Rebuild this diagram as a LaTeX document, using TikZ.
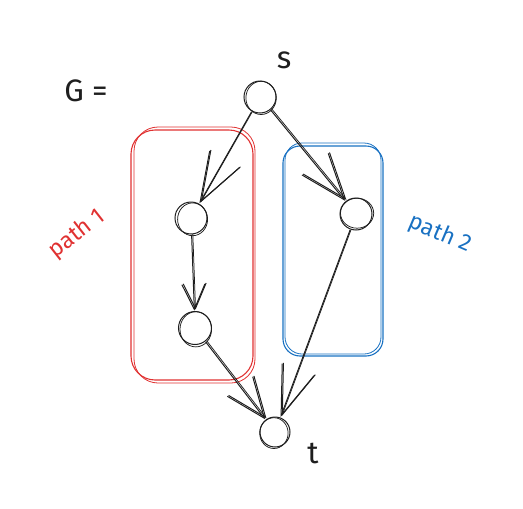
\documentclass[tikz,border=0pt]{standalone}
\usepackage{fontspec}
\setmainfont{Fira Sans}
\usetikzlibrary{arrows.meta}
\definecolor{ink}{HTML}{1E1E1E}
\definecolor{redpen}{HTML}{E03131}
\definecolor{bluepen}{HTML}{1971C2}
\begin{document}
\begin{tikzpicture}[x=1pt,y=-1pt,
  vtx/.style={circle,draw=ink,line width=1pt,minimum size=32pt,inner sep=0pt,outer sep=1pt},
  sk/.style={draw=ink,line width=0.75pt},
  edge/.style={draw=ink,line width=1pt},
  barb/.style 2 args={-{Straight Barb[length=#1,width=#2,line width=1pt]}},
  second/.style={transform canvas={shift={(1.2pt,0.9pt)}},line width=0.75pt},
  lbl/.style={font=\fontsize{31}{34}\selectfont\mdseries,text=ink},
  pathlbl/.style={font=\fontsize{23}{26}\selectfont,inner sep=0pt},
  redbox/.style={draw=redpen,rounded corners=24pt},
  bluebox/.style={draw=bluepen,rounded corners=17pt}]
\useasboundingbox (0,0) rectangle (523,509);

% path groups
\draw[redbox,line width=1.1pt] (131,130) rectangle (253,380);
\draw[redbox,line width=0.8pt] (134,127) rectangle (255,383);
\draw[bluebox,line width=1.1pt] (283,146) rectangle (383,356);
\draw[bluebox,line width=0.8pt] (285,143) rectangle (381,354);

% vertices
\node[vtx] (s) at (260,97) {};
\node[vtx] (a) at (191,218) {};
\node[vtx] (b) at (356,214) {};
\node[vtx,minimum size=33pt] (c) at (195,328) {};
\node[vtx,minimum size=30pt] (t) at (275,432) {};
\draw[sk] ([shift={(1.1,0.9)}]s.center) circle[x radius=15.2,y radius=16.6];
\draw[sk] ([shift={(1.6,1.3)}]a.center) circle[x radius=15.0,y radius=16.4];
\draw[sk] ([shift={(1.1,-0.8)}]b.center) circle[x radius=16.6,y radius=15.0];
\draw[sk] ([shift={(0.8,1.3)}]c.center) circle[x radius=15.8,y radius=17.6];
\draw[sk] ([shift={(-1.1,1.1)}]t.center) circle[x radius=14.2,y radius=15.4];

% edges
\draw[edge,barb={49pt}{34pt}] (s) -- (a);
\draw[edge,barb={49pt}{34pt},second] (s) -- (a);
\draw[edge,barb={46pt}{34pt}] (s) -- (b);
\draw[edge,barb={46pt}{34pt},second] (s) -- (b);
\draw[edge,barb={25pt}{23pt}] (a) -- (c);
\draw[edge,barb={25pt}{23pt},second] (a) -- (c);
\draw[edge,barb={40pt}{32pt}] (c) -- (t);
\draw[edge,barb={40pt}{32pt},second] (c) -- (t);
\draw[edge,barb={49pt}{34pt}] (b) -- (t);
\draw[edge,barb={49pt}{34pt},second] (b) -- (t);

% labels
\node[lbl] (G) at (86,91) {G =};
\node[lbl] (slbl) at (284,60) {s};
\node[lbl] (tlbl) at (313,453) {t};
\node[pathlbl,text=redpen,rotate=38] (p1) at (77,234) {path 1};
\node[pathlbl,text=bluepen,rotate=-23] (p2) at (440,234) {path 2};
\end{tikzpicture}
\end{document}
